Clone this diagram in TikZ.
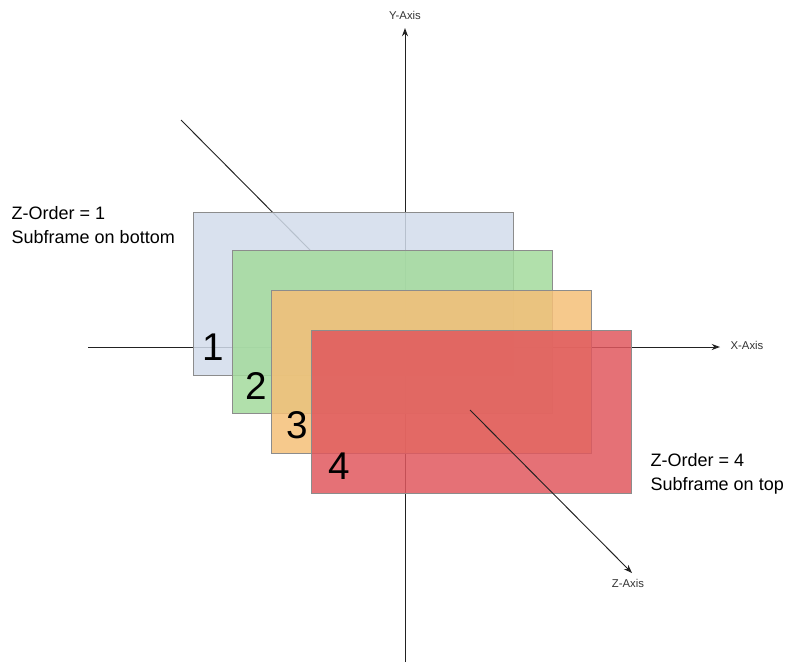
\documentclass[tikz,border=0pt]{standalone}
\usepackage{fontspec}
\setmainfont{Liberation Sans}
\usetikzlibrary{arrows.meta}
\definecolor{FrameBlue}{HTML}{D2DCEB}
\definecolor{FrameGreen}{HTML}{A3DA9C}
\definecolor{FrameOrange}{HTML}{F5BF78}
\definecolor{FrameRed}{HTML}{E0585E}
\definecolor{AxisInk}{HTML}{222222}
\tikzset{
  every node/.style={font=\rmfamily, text=black},
  axis/.style={-{Stealth[length=2.2mm,width=1.6mm]}, draw=AxisInk, line width=0.7pt},
  frame/.style={draw=black!45, line width=0.6pt, fill opacity=0.85},
  axislabel/.style={font=\fontsize{8.5}{9}\selectfont, text=black!80},
  ordernum/.style={font=\fontsize{29}{30}\selectfont},
  note/.style={font=\fontsize{13.5}{18}\selectfont, align=left, anchor=north west},
}
\begin{document}
\begin{tikzpicture}[x=0.75pt,y=-0.75pt]
  \useasboundingbox (0,0) rectangle (787,667);
  % axes below the frames
  \draw[axis] (88,347) -- (720,347);
  \draw[axis] (405,662) -- (405,28);
  \draw[draw=AxisInk, line width=0.7pt] (181,120) -- (310,250);
  \node[axislabel] at (747,345) {X-Axis};
  \node[axislabel] at (405,15) {Y-Axis};
  \node[axislabel] at (628,583) {Z-Axis};
  % subframes, bottom to top
  \filldraw[frame, fill=FrameBlue]   (193,212) rectangle (513,375);
  \filldraw[frame, fill=FrameGreen]  (232,250) rectangle (552,413);
  \filldraw[frame, fill=FrameOrange] (271,290) rectangle (591,453);
  \filldraw[frame, fill=FrameRed]    (311,330) rectangle (631,493);
  \node[ordernum] at (213,347) {1};
  \node[ordernum] at (256,386) {2};
  \node[ordernum] at (297,425) {3};
  \node[ordernum] at (339,466) {4};
  \draw[axis] (470,410) -- (632,573);
  \node[note] at (7,202) {Z-Order = 1\\Subframe on bottom};
  \node[note] at (646,449) {Z-Order = 4\\Subframe on top};
\end{tikzpicture}
\end{document}
